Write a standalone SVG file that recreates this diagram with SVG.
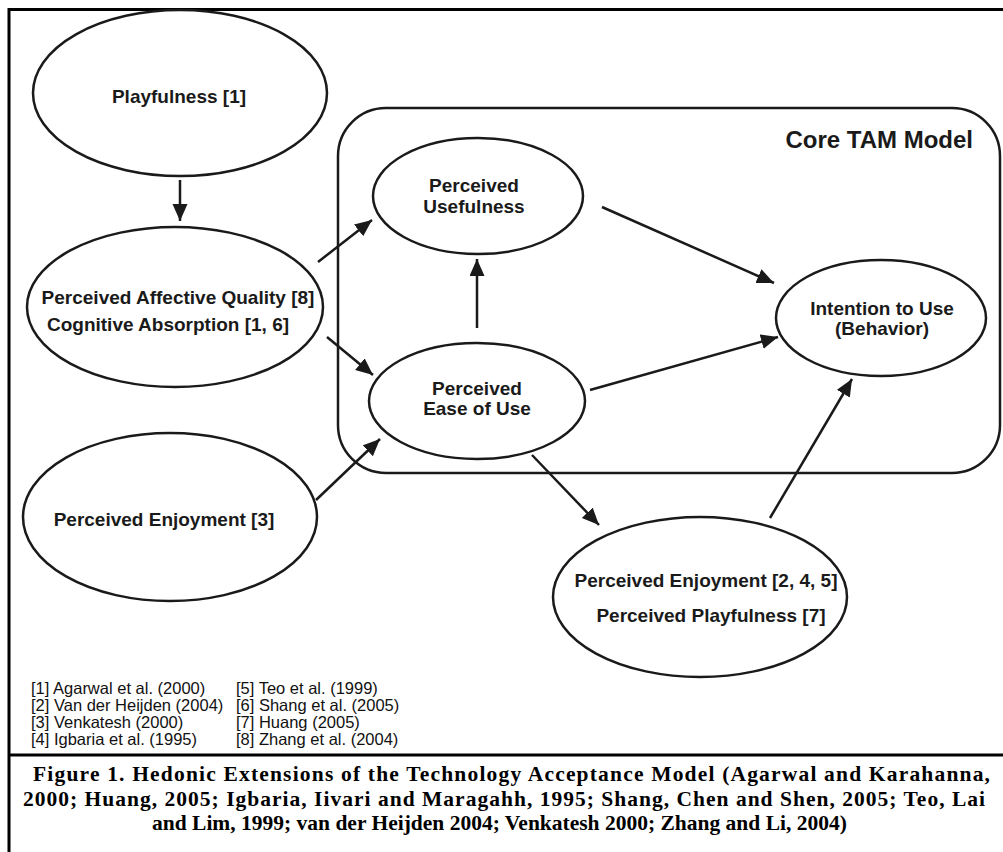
<svg xmlns="http://www.w3.org/2000/svg" width="1003" height="852" viewBox="0 0 1003 852">
<style>
.frame{stroke:#000;stroke-width:3;fill:none}
.node{fill:#fff;stroke:#1a1a1a;stroke-width:2.5}
.box{fill:none;stroke:#1a1a1a;stroke-width:2.5}
.lbl{font-family:"Liberation Sans",Arial,sans-serif;font-weight:bold;font-size:19px;fill:#1a1a1a;text-anchor:middle}
.title{font-family:"Liberation Sans",Arial,sans-serif;font-weight:bold;font-size:24px;fill:#1a1a1a;text-anchor:end}
.ref{font-family:"Liberation Sans",Arial,sans-serif;font-size:16.5px;fill:#111}
.cap{font-family:"Liberation Serif","Times New Roman",serif;font-weight:bold;font-size:21.5px;fill:#000}
.conn line{stroke:#1a1a1a;stroke-width:2.5;marker-end:url(#ah)}
</style>
<defs>
<marker id="ah" markerUnits="userSpaceOnUse" markerWidth="18" markerHeight="16" refX="17" refY="7.5" orient="auto">
<path d="M0,0 L17,7.5 L0,15 z" fill="#1a1a1a"/>
</marker>
</defs>
<rect width="1003" height="852" fill="#fff"/>
<g id="frame">
<line class="frame" x1="9" y1="9.5" x2="1003" y2="9.5"/>
<line class="frame" x1="9" y1="8" x2="9" y2="852"/>
<line class="frame" x1="9" y1="755" x2="1003" y2="755"/>
</g>
<g id="core-tam">
<rect class="box" x="338" y="108" width="662" height="365" rx="48" ry="48"/>
<text class="title" x="973" y="148">Core TAM Model</text>
</g>
<g class="conn" id="connectors">
<line x1="180" y1="180" x2="180" y2="221"/>
<line x1="318" y1="262" x2="372" y2="220"/>
<line x1="327" y1="337" x2="373" y2="375"/>
<line x1="316" y1="500" x2="380" y2="439"/>
<line x1="477" y1="328" x2="477" y2="259"/>
<line x1="602" y1="207" x2="774" y2="283"/>
<line x1="590" y1="390" x2="778" y2="337"/>
<line x1="532" y1="455" x2="599" y2="525"/>
<line x1="770" y1="518" x2="852" y2="379"/>
</g>
<g id="playfulness">
<ellipse class="node" cx="180" cy="93" rx="147" ry="83"/>
<text class="lbl" x="179" y="103">Playfulness [1]</text>
</g>
<g id="affective">
<ellipse class="node" cx="175" cy="307" rx="148" ry="80"/>
<text class="lbl" x="178" y="304">Perceived Affective Quality [8]</text>
<text class="lbl" x="168" y="331">Cognitive Absorption [1, 6]</text>
</g>
<g id="enjoyment3">
<ellipse class="node" cx="170" cy="517" rx="147" ry="84"/>
<text class="lbl" x="164" y="526">Perceived Enjoyment [3]</text>
</g>
<g id="usefulness">
<ellipse class="node" cx="478" cy="196" rx="105" ry="58"/>
<text class="lbl" x="474" y="192">Perceived</text>
<text class="lbl" x="474" y="213">Usefulness</text>
</g>
<g id="ease">
<ellipse class="node" cx="477" cy="401" rx="108" ry="58"/>
<text class="lbl" x="477" y="395">Perceived</text>
<text class="lbl" x="477" y="415">Ease of Use</text>
</g>
<g id="intention">
<ellipse class="node" cx="881" cy="318" rx="105" ry="58"/>
<text class="lbl" x="882" y="315">Intention to Use</text>
<text class="lbl" x="882" y="335">(Behavior)</text>
</g>
<g id="enjoyment245">
<ellipse class="node" cx="700" cy="597" rx="147" ry="80"/>
<text class="lbl" x="706" y="587">Perceived Enjoyment [2, 4, 5]</text>
<text class="lbl" x="711" y="622">Perceived Playfulness [7]</text>
</g>
<g id="references">
<text class="ref" x="31" y="694">[1] Agarwal et al. (2000)</text>
<text class="ref" x="31" y="711">[2] Van der Heijden (2004)</text>
<text class="ref" x="31" y="728">[3] Venkatesh (2000)</text>
<text class="ref" x="31" y="745">[4] Igbaria et al. (1995)</text>
<text class="ref" x="236" y="694">[5] Teo et al. (1999)</text>
<text class="ref" x="236" y="711">[6] Shang et al. (2005)</text>
<text class="ref" x="236" y="728">[7] Huang (2005)</text>
<text class="ref" x="236" y="745">[8] Zhang et al. (2004)</text>
</g>
<g id="caption">
<text class="cap" x="33" y="781" textLength="957" lengthAdjust="spacing">Figure 1. Hedonic Extensions of the Technology Acceptance Model (Agarwal and Karahanna,</text>
<text class="cap" x="23" y="806" textLength="962" lengthAdjust="spacing">2000; Huang, 2005; Igbaria, Iivari and Maragahh, 1995; Shang, Chen and Shen, 2005; Teo, Lai</text>
<text class="cap" x="152" y="830">and Lim, 1999; van der Heijden 2004; Venkatesh 2000; Zhang and Li, 2004)</text>
</g>
</svg>
